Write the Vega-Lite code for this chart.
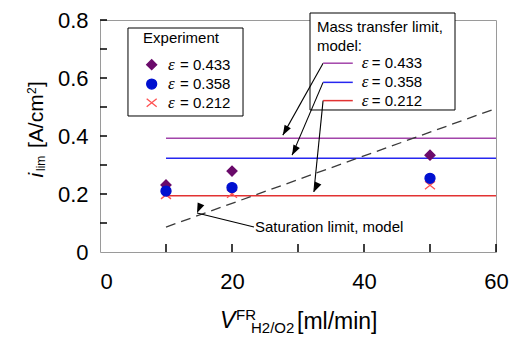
{
  "$schema": "https://vega.github.io/schema/vega-lite/v6.json",
  "width": 396,
  "height": 232,
  "autosize": "none",
  "padding": {"left": 100, "top": 20, "right": 20, "bottom": 88},
  "background": "white",
  "config": {"view": {"stroke": "#9a9a9a", "strokeWidth": 1}, "font": "Liberation Sans"},
  "datasets": {
    "exp": [
      {"flow": 10, "ilim": 0.197, "eps": "0.212"},
      {"flow": 20, "ilim": 0.201, "eps": "0.212"},
      {"flow": 50, "ilim": 0.23, "eps": "0.212"},
      {"flow": 10, "ilim": 0.231, "eps": "0.433"},
      {"flow": 20, "ilim": 0.279, "eps": "0.433"},
      {"flow": 50, "ilim": 0.334, "eps": "0.433"},
      {"flow": 10, "ilim": 0.21, "eps": "0.358"},
      {"flow": 20, "ilim": 0.222, "eps": "0.358"},
      {"flow": 50, "ilim": 0.254, "eps": "0.358"}
    ],
    "model": [
      {"eps": "0.433", "ilim": 0.392, "start": 10, "end": 60},
      {"eps": "0.358", "ilim": 0.323, "start": 10, "end": 60},
      {"eps": "0.212", "ilim": 0.194, "start": 10, "end": 60}
    ],
    "saturation": [
      {"flow": 10, "ilim": 0.086},
      {"flow": 60, "ilim": 0.495}
    ],
    "xTicks": [{"flow": 10}, {"flow": 20}, {"flow": 30}, {"flow": 40}, {"flow": 50}, {"flow": 60}],
    "yTicks": [{"ilim": 0.1}, {"ilim": 0.2}, {"ilim": 0.3}, {"ilim": 0.4}, {"ilim": 0.5}, {"ilim": 0.6}, {"ilim": 0.7}, {"ilim": 0.8}],
    "boxes": [
      {"box": "experiment", "x0": 4.24, "x1": 21.67, "y0": 0.7724, "y1": 0.469},
      {"box": "model", "x0": 31.82, "x1": 53.79, "y0": 0.8241, "y1": 0.4897}
    ],
    "legendSymbols": [
      {"eps": "0.433", "x": 7.83, "y": 0.646},
      {"eps": "0.358", "x": 7.83, "y": 0.579},
      {"eps": "0.212", "x": 7.83, "y": 0.515}
    ],
    "legendLines": [
      {"eps": "0.433", "x0": 33.8, "x1": 38.3, "y": 0.651},
      {"eps": "0.358", "x0": 33.8, "x1": 38.3, "y": 0.585},
      {"eps": "0.212", "x0": 33.8, "x1": 38.3, "y": 0.522}
    ],
    "arrows": [
      {"id": "a1", "x0": 33.8, "y0": 0.651, "x1": 27.7, "y1": 0.403},
      {"id": "a2", "x0": 33.8, "y0": 0.585, "x1": 29.1, "y1": 0.334},
      {"id": "a3", "x0": 33.8, "y0": 0.522, "x1": 32.4, "y1": 0.207},
      {"id": "sat", "x0": 23.33, "y0": 0.0862, "x1": 14.7, "y1": 0.1345}
    ],
    "texts": [
      {"role": "label", "text": "Experiment", "x": 6.52, "y": 0.738},
      {"role": "eps", "text": "ε", "x": 10.3, "y": 0.646},
      {"role": "label", "text": "= 0.433", "x": 12.12, "y": 0.646},
      {"role": "eps", "text": "ε", "x": 10.3, "y": 0.579},
      {"role": "label", "text": "= 0.358", "x": 12.12, "y": 0.579},
      {"role": "eps", "text": "ε", "x": 10.3, "y": 0.515},
      {"role": "label", "text": "= 0.212", "x": 12.12, "y": 0.515},
      {"role": "label", "text": "Mass transfer limit,", "x": 32.88, "y": 0.776},
      {"role": "label", "text": "model:", "x": 32.88, "y": 0.712},
      {"role": "eps", "text": "ε", "x": 39.65, "y": 0.651},
      {"role": "label", "text": "= 0.433", "x": 41.17, "y": 0.651},
      {"role": "eps", "text": "ε", "x": 39.65, "y": 0.585},
      {"role": "label", "text": "= 0.358", "x": 41.17, "y": 0.585},
      {"role": "eps", "text": "ε", "x": 39.65, "y": 0.522},
      {"role": "label", "text": "= 0.212", "x": 41.17, "y": 0.522},
      {"role": "label", "text": "Saturation limit, model", "x": 23.48, "y": 0.087},
      {"role": "ytitle-i", "text": "i", "x": -8.636, "y": 0.2569},
      {"role": "ytitle-small", "text": "lim", "x": -8.3, "y": 0.2793},
      {"role": "ytitle", "text": "[A/cm", "x": -8.636, "y": 0.3586},
      {"role": "ytitle-small", "text": "2", "x": -9.7, "y": 0.5448},
      {"role": "ytitle", "text": "]", "x": -8.636, "y": 0.569},
      {"role": "xtitle-v", "text": "V", "x": 18.18, "y": -0.2621},
      {"role": "xtitle-small", "text": "FR", "x": 20.61, "y": -0.2345},
      {"role": "xtitle-small", "text": "H2/O2", "x": 22.88, "y": -0.2793},
      {"role": "xtitle", "text": "[ml/min]", "x": 29.85, "y": -0.2655}
    ]
  },
  "layer": [
    {
      "data": {"name": "boxes"},
      "mark": {"type": "rect", "fill": "white", "stroke": "black", "strokeWidth": 1},
      "encoding": {
        "x": {
          "field": "x0", "type": "quantitative",
          "scale": {"domain": [0, 60], "nice": false, "zero": false},
          "axis": {
            "title": null,
            "values": [0, 20, 40, 60],
            "labelAlign": {"condition": {"test": "datum.value == 0", "value": "left"}, "value": "center"},
            "domain": false,
            "ticks": false,
            "tickSize": 0,
            "grid": false,
            "labelPadding": 19,
            "labelFont": "Liberation Sans", "labelFontSize": 22, "labelColor": "black"
          }
        },
        "x2": {"field": "x1"},
        "y": {
          "field": "y0", "type": "quantitative",
          "scale": {"domain": [0, 0.8], "nice": false, "zero": false},
          "axis": {
            "title": null,
            "values": [0, 0.2, 0.4, 0.6, 0.8],
            "labelExpr": "datum.value == 0 ? '0' : format(datum.value, '.1f')",
            "domain": false,
            "ticks": false,
            "tickSize": 0,
            "grid": false,
            "labelPadding": 12,
            "labelFont": "Liberation Sans", "labelFontSize": 22, "labelColor": "black"
          }
        },
        "y2": {"field": "y1"}
      }
    },
    {
      "mark": {"type": "rule", "stroke": "black", "strokeWidth": 1.5},
      "encoding": {"x": {"datum": 0, "type": "quantitative"}}
    },
    {
      "mark": {"type": "rule", "stroke": "#333333", "strokeWidth": 1.5},
      "encoding": {"y": {"datum": 0, "type": "quantitative"}}
    },
    {
      "data": {"name": "xTicks"},
      "mark": {"type": "tick", "orient": "vertical", "color": "black", "size": 8, "thickness": 1.5, "yOffset": -4, "opacity": 1},
      "encoding": {
        "x": {"field": "flow", "type": "quantitative"},
        "y": {"datum": 0, "type": "quantitative"}
      }
    },
    {
      "data": {"name": "yTicks"},
      "mark": {"type": "tick", "orient": "horizontal", "color": "black", "size": 7, "thickness": 1.5, "xOffset": 3.5, "opacity": 1},
      "encoding": {
        "y": {"field": "ilim", "type": "quantitative"},
        "x": {"datum": 0, "type": "quantitative"}
      }
    },
    {
      "data": {"name": "model"},
      "mark": {"type": "rule", "strokeWidth": 1.5},
      "encoding": {
        "x": {"field": "start", "type": "quantitative"},
        "x2": {"field": "end"},
        "y": {"field": "ilim", "type": "quantitative"},
        "color": {"field": "eps", "type": "nominal", "scale": {"domain": ["0.433", "0.358", "0.212"], "range": ["#A244AA", "#2626F0", "#E23232"]}, "legend": null}
      }
    },
    {
      "data": {"name": "saturation"},
      "mark": {"type": "line", "stroke": "#3a3a3a", "strokeWidth": 1.3, "strokeDash": [10, 6]},
      "encoding": {
        "x": {"field": "flow", "type": "quantitative"},
        "y": {"field": "ilim", "type": "quantitative"}
      }
    },
    {
      "data": {"name": "arrows"},
      "mark": {"type": "rule", "stroke": "black", "strokeWidth": 1.1},
      "encoding": {
        "x": {"field": "x0", "type": "quantitative"},
        "y": {"field": "y0", "type": "quantitative"},
        "x2": {"field": "x1"},
        "y2": {"field": "y1"}
      }
    },
    {
      "data": {"name": "arrows"},
      "mark": {"type": "point", "shape": "M0,0L-0.36,1L0.36,1Z", "filled": true, "fill": "black", "size": 400, "opacity": 1},
      "encoding": {
        "x": {"field": "x1", "type": "quantitative"},
        "y": {"field": "y1", "type": "quantitative"},
        "angle": {"field": "id", "type": "ordinal", "scale": {"domain": ["a1", "a2", "a3", "sat"], "range": [209.3, 203.3, 185.8, 283.8]}, "legend": null}
      }
    },
    {
      "data": {"name": "exp"},
      "mark": {"type": "point", "filled": true, "size": 100, "strokeWidth": 1.3, "opacity": 1},
      "encoding": {
        "x": {"field": "flow", "type": "quantitative"},
        "y": {"field": "ilim", "type": "quantitative"},
        "shape": {"field": "eps", "type": "nominal", "scale": {"domain": ["0.433", "0.358", "0.212"], "range": ["diamond", "circle", "M-1,-0.8L1,0.8M1,-0.8L-1,0.8"]}, "legend": null},
        "fill": {"field": "eps", "type": "nominal", "scale": {"domain": ["0.433", "0.358", "0.212"], "range": ["#6A0A6A", "#0010D0", "#FF5050"]}, "legend": null},
        "stroke": {"field": "eps", "type": "nominal", "scale": {"domain": ["0.433", "0.358", "0.212"], "range": ["#6A0A6A", "#0010D0", "#FF5050"]}, "legend": null}
      }
    },
    {
      "data": {"name": "legendSymbols"},
      "mark": {"type": "point", "filled": true, "size": 100, "strokeWidth": 1.3, "opacity": 1},
      "encoding": {
        "x": {"field": "x", "type": "quantitative"},
        "y": {"field": "y", "type": "quantitative"},
        "shape": {"field": "eps", "type": "nominal", "legend": null},
        "fill": {"field": "eps", "type": "nominal", "legend": null},
        "stroke": {"field": "eps", "type": "nominal", "legend": null}
      }
    },
    {
      "data": {"name": "legendLines"},
      "mark": {"type": "rule", "strokeWidth": 1.5},
      "encoding": {
        "x": {"field": "x0", "type": "quantitative"},
        "x2": {"field": "x1"},
        "y": {"field": "y", "type": "quantitative"},
        "color": {"field": "eps", "type": "nominal", "legend": null}
      }
    },
    {
      "data": {"name": "texts"},
      "transform": [{"filter": "datum.role == 'label'"}],
      "mark": {"type": "text", "align": "left", "baseline": "middle", "font": "Liberation Sans", "fontSize": 15, "fill": "black"},
      "encoding": {
        "x": {"field": "x", "type": "quantitative"},
        "y": {"field": "y", "type": "quantitative"},
        "text": {"field": "text"}
      }
    },
    {
      "data": {"name": "texts"},
      "transform": [{"filter": "datum.role == 'eps'"}],
      "mark": {"type": "text", "align": "left", "baseline": "middle", "font": "Liberation Serif", "fontStyle": "italic", "fontSize": 17, "fill": "black"},
      "encoding": {
        "x": {"field": "x", "type": "quantitative"},
        "y": {"field": "y", "type": "quantitative"},
        "text": {"field": "text"}
      }
    },
    {
      "data": {"name": "texts"},
      "transform": [{"filter": "datum.role == 'ytitle-i'"}],
      "mark": {"type": "text", "align": "left", "baseline": "alphabetic", "angle": -90, "font": "Liberation Sans", "fontStyle": "italic", "fontSize": 21, "fill": "black"},
      "encoding": {
        "x": {"field": "x", "type": "quantitative"},
        "y": {"field": "y", "type": "quantitative"},
        "text": {"field": "text"}
      }
    },
    {
      "data": {"name": "texts"},
      "transform": [{"filter": "datum.role == 'ytitle'"}],
      "mark": {"type": "text", "align": "left", "baseline": "alphabetic", "angle": -90, "font": "Liberation Sans", "fontSize": 21, "fill": "black"},
      "encoding": {
        "x": {"field": "x", "type": "quantitative"},
        "y": {"field": "y", "type": "quantitative"},
        "text": {"field": "text"}
      }
    },
    {
      "data": {"name": "texts"},
      "transform": [{"filter": "datum.role == 'ytitle-small'"}],
      "mark": {"type": "text", "align": "left", "baseline": "alphabetic", "angle": -90, "font": "Liberation Sans", "fontSize": 12, "fill": "black"},
      "encoding": {
        "x": {"field": "x", "type": "quantitative"},
        "y": {"field": "y", "type": "quantitative"},
        "text": {"field": "text"}
      }
    },
    {
      "data": {"name": "texts"},
      "transform": [{"filter": "datum.role == 'xtitle-v'"}],
      "mark": {"type": "text", "align": "left", "baseline": "alphabetic", "font": "Liberation Sans", "fontStyle": "italic", "fontSize": 23, "fill": "black"},
      "encoding": {
        "x": {"field": "x", "type": "quantitative"},
        "y": {"field": "y", "type": "quantitative"},
        "text": {"field": "text"}
      }
    },
    {
      "data": {"name": "texts"},
      "transform": [{"filter": "datum.role == 'xtitle'"}],
      "mark": {"type": "text", "align": "left", "baseline": "alphabetic", "font": "Liberation Sans", "fontSize": 23, "fill": "black"},
      "encoding": {
        "x": {"field": "x", "type": "quantitative"},
        "y": {"field": "y", "type": "quantitative"},
        "text": {"field": "text"}
      }
    },
    {
      "data": {"name": "texts"},
      "transform": [{"filter": "datum.role == 'xtitle-small'"}],
      "mark": {"type": "text", "align": "left", "baseline": "alphabetic", "font": "Liberation Sans", "fontSize": 15, "fill": "black"},
      "encoding": {
        "x": {"field": "x", "type": "quantitative"},
        "y": {"field": "y", "type": "quantitative"},
        "text": {"field": "text"}
      }
    }
  ]
}
